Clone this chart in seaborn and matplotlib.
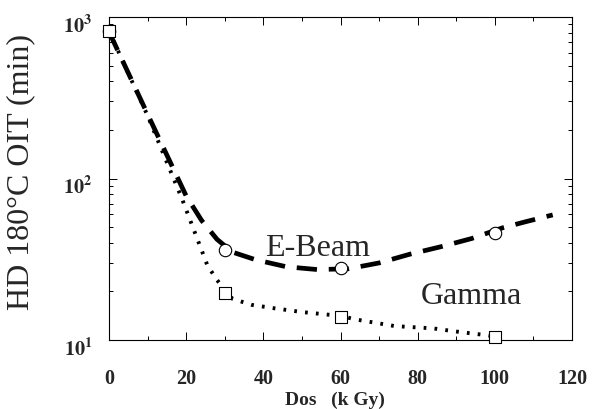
import numpy as np
import pandas as pd
import seaborn as sns
import matplotlib
matplotlib.use("Agg")
import matplotlib.pyplot as plt
from matplotlib.ticker import NullFormatter, MultipleLocator, LogLocator
from matplotlib.transforms import ScaledTranslation

# ---- data ----
dose_markers = [0, 30, 60, 100]
ebeam_markers = [820, 36, 27.9, 46]
gamma_markers = [820, 19.5, 13.9, 10.4]

ebeam_curve_x = [0, 10, 20, 24, 28, 32, 38, 46, 54, 62, 70, 78, 86, 94, 102, 108, 115]
ebeam_curve_y = [810, 250, 78, 55, 42, 35, 31.4, 28.4, 27.3, 27.6, 30, 34, 37.8, 42.5, 49.5, 54, 59.5]

gamma_curve_x = [0, 10, 19, 22, 25.5, 28, 30, 32, 37, 43, 50, 60, 64, 74, 84, 91, 98, 100]
gamma_curve_y = [820, 245, 74, 48, 29, 23.5, 20.5, 18, 16.5, 15.7, 14.9, 14.1, 13.4, 12.2, 11.8, 11.2, 10.7, 10.5]

x_ticks = [0, 20, 40, 60, 80, 100, 120]
y_ticks = [10, 100, 1000]
y_tick_labels = [r"$\mathbf{10^{1}}$", r"$\mathbf{10^{2}}$", r"$\mathbf{10^{3}}$"]

# ---- style ----
sns.set_theme(style="ticks")
plt.rcParams["font.family"] = ["Liberation Serif", "DejaVu Serif"]
plt.rcParams["mathtext.fontset"] = "stix"

fig = plt.figure(figsize=(5.94, 4.09), dpi=100)
ax = fig.add_axes([109 / 594, (409 - 340) / 409, (572 - 109) / 594, (340 - 17) / 409])

df_e = pd.DataFrame({"x": ebeam_curve_x, "y": ebeam_curve_y})
df_g = pd.DataFrame({"x": gamma_curve_x, "y": gamma_curve_y})

sns.lineplot(data=df_e, x="x", y="y", ax=ax, color="black", lw=3.4,
             linestyle=(0, (4.3, 2.5)), sort=False, estimator=None, zorder=2)
sns.lineplot(data=df_g, x="x", y="y", ax=ax, color="black", lw=2.8,
             linestyle=(0, (0.7, 2.1)), sort=False, estimator=None, zorder=2)

sns.scatterplot(x=dose_markers, y=ebeam_markers, ax=ax, marker="o", s=80,
                facecolor="white", edgecolor="black", linewidth=0.8, zorder=4, clip_on=False)
sns.scatterplot(x=dose_markers, y=gamma_markers, ax=ax, marker="s", s=75,
                facecolor="white", edgecolor="black", linewidth=0.8, zorder=5, clip_on=False)

ax.set_yscale("log")
ax.set_xlim(0, 120)
ax.set_ylim(10, 1000)

ax.set_xticks(x_ticks)
ax.set_xticklabels([str(t) for t in x_ticks], fontsize=14.5, fontweight="bold")
ax.xaxis.set_minor_locator(MultipleLocator(10))
ax.set_yticks(y_ticks)
ax.set_yticklabels(y_tick_labels, fontsize=14.5)
ax.yaxis.set_minor_locator(LogLocator(base=10, subs=np.arange(2, 10)))
ax.yaxis.set_minor_formatter(NullFormatter())

ax.tick_params(axis="both", which="both", direction="in", top=True, right=True,
               color="black", width=0.7)
ax.tick_params(axis="both", which="major", length=6)
ax.tick_params(axis="both", which="minor", length=3)
ax.tick_params(axis="x", which="major", pad=21)
ax.tick_params(axis="y", which="major", pad=12)

for lab in ax.get_yticklabels():
    lab.set_transform(lab.get_transform() + ScaledTranslation(0, -5 / 72, fig.dpi_scale_trans))

for sp in ax.spines.values():
    sp.set_color("black")
    sp.set_linewidth(0.8)

ax.set_xlabel("Dos   (k Gy)", fontsize=14, fontweight="bold")
ax.xaxis.set_label_coords(0.488, -0.16)
ax.set_ylabel("HD 180°C OIT (min)", fontsize=23)
ax.yaxis.set_label_coords(-0.16, 0.52)

ax.text(40.5, 37, "E-Beam", fontsize=23, ha="left", va="center")
ax.text(80.7, 18.7, "Gamma", fontsize=23, ha="left", va="center")

fig.savefig("out.png", dpi=100)
